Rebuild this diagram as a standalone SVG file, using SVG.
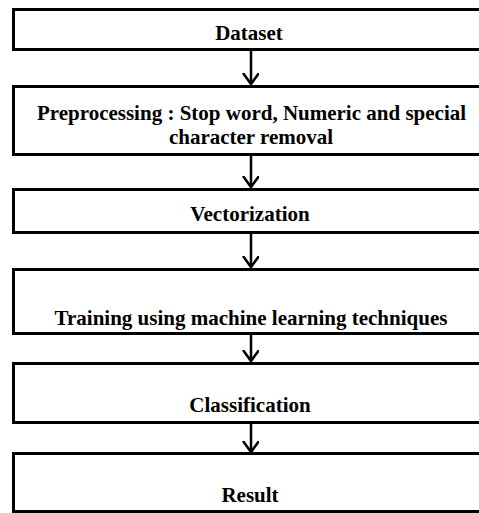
<svg xmlns="http://www.w3.org/2000/svg" width="479" height="513" viewBox="0 0 479 513">
<style>
.box{fill:#fff;stroke:#000;stroke-width:3}
.lbl{font-family:"Liberation Serif","Times New Roman",serif;font-weight:bold;font-size:21px;fill:#000;text-anchor:middle}
.con{stroke:#000;stroke-width:2.5;fill:none}
</style>
<defs>
<marker id="ah" markerUnits="userSpaceOnUse" markerWidth="20" markerHeight="20" refX="11" refY="8" orient="auto" viewBox="0 0 20 20">
<path d="M0,0 L11,8 L0,16" fill="none" stroke="#000" stroke-width="2.5"/>
</marker>
</defs>
<g id="connectors">
<line class="con" x1="251" y1="51" x2="251" y2="84" marker-end="url(#ah)"/>
<line class="con" x1="251" y1="156" x2="251" y2="187" marker-end="url(#ah)"/>
<line class="con" x1="251" y1="234" x2="251" y2="267" marker-end="url(#ah)"/>
<line class="con" x1="251" y1="335" x2="251" y2="361" marker-end="url(#ah)"/>
<line class="con" x1="251" y1="424" x2="251" y2="452" marker-end="url(#ah)"/>
</g>
<g id="dataset">
<rect class="box" x="13.5" y="9.5" width="480" height="40"/>
<text class="lbl" x="249" y="40">Dataset</text>
</g>
<g id="preprocessing">
<rect class="box" x="13.5" y="86.5" width="480" height="68"/>
<text class="lbl" x="251.5" y="120">Preprocessing : Stop word, Numeric and special</text>
<text class="lbl" x="251" y="144">character removal</text>
</g>
<g id="vectorization">
<rect class="box" x="13.5" y="189.5" width="480" height="43"/>
<text class="lbl" x="250" y="221">Vectorization</text>
</g>
<g id="training">
<rect class="box" x="13.5" y="269.5" width="480" height="64"/>
<text class="lbl" x="251" y="325">Training using machine learning techniques</text>
</g>
<g id="classification">
<rect class="box" x="13.5" y="363.5" width="480" height="59"/>
<text class="lbl" x="250" y="412">Classification</text>
</g>
<g id="result">
<rect class="box" x="13.5" y="453.5" width="480" height="58"/>
<text class="lbl" x="250" y="502">Result</text>
</g>
</svg>
